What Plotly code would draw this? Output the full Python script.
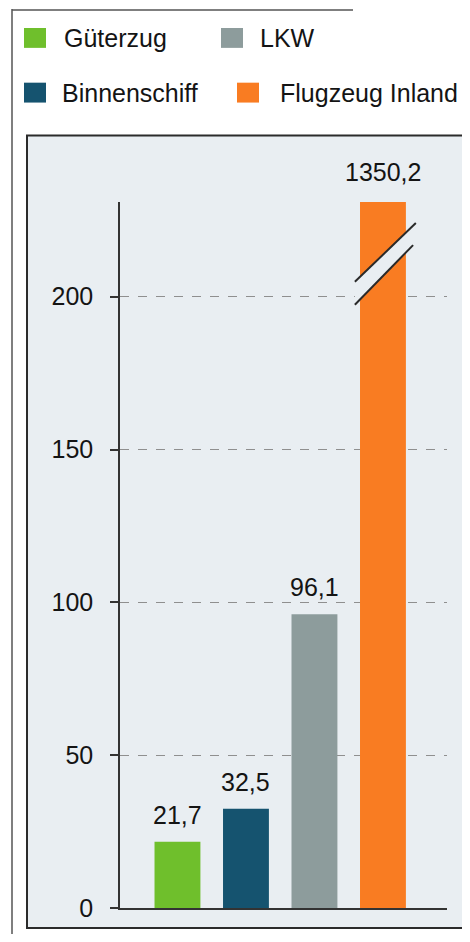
import plotly.graph_objects as go

# data
categories = ["Güterzug", "Binnenschiff", "LKW", "Flugzeug Inland"]
values = [21.7, 32.5, 96.1, 1350.2]
colors = ["#6fbf2c", "#15536f", "#8d9c9c", "#f97c22"]
legend_order = ["Güterzug", "LKW", "Binnenschiff", "Flugzeug Inland"]
y_ticks = [0, 50, 100, 150, 200]

Y_TOP = 231          # axis is cut here, the last bar is broken
OFF = 8              # page body margin around the plot div
W, H = 470 - 2 * OFF, 942 - 2 * OFF
ML, MR, MT, MB = 112, 15, 194, 22
PW, PH = W - ML - MR, H - MT - MB


def px_x(px):
    # page pixel -> paper x
    return (px - OFF - ML) / PW


def px_y(py):
    # page pixel -> paper y
    return (H - MB - (py - OFF)) / PH


def fmt(v):
    return f"{v:.1f}".replace(".", ",")


xs = list(range(len(categories)))
shown = [min(v, Y_TOP) for v in values]

fig = go.Figure()
fig.add_trace(go.Bar(
    x=xs,
    y=shown,
    width=0.67,
    marker=dict(color=colors, line=dict(width=0)),
    showlegend=False,
    hoverinfo="skip",
))

font = dict(family="Liberation Sans, Arial, sans-serif", color="#141414")

# value labels
for x, v, s in zip(xs, values, shown):
    fig.add_annotation(
        x=x, y=s, text=fmt(v), showarrow=False,
        yanchor="bottom", yshift=14 if v > Y_TOP else 11,
        font=dict(size=25, **font),
    )

shapes = []
# chart panel
shapes.append(dict(
    type="rect", xref="paper", yref="paper", layer="below",
    x0=px_x(27), x1=px_x(465), y0=px_y(932), y1=px_y(135),
    fillcolor="#e9eef2", line=dict(color="#2b2b2b", width=2),
))
# outer scan frame
shapes.append(dict(type="line", xref="paper", yref="paper",
                   x0=px_x(12), x1=px_x(12), y0=px_y(8), y1=px_y(942),
                   line=dict(color="#555", width=1.5)))
shapes.append(dict(type="line", xref="paper", yref="paper",
                   x0=px_x(12), x1=px_x(353), y0=px_y(9), y1=px_y(9),
                   line=dict(color="#555", width=1.5)))

# break marks on the cut bar
bi = values.index(max(values))
brk = [(bi - 0.41, Y_TOP - 26.1), (bi + 0.48, Y_TOP - 6.9),
       (bi + 0.44, Y_TOP - 14.1), (bi - 0.41, Y_TOP - 33.6)]
shapes.append(dict(
    type="path", xref="x", yref="y",
    path="M {} {} L {} {} L {} {} L {} {} Z".format(*[c for p in brk for c in p]),
    fillcolor="#e9eef2", line=dict(width=0),
))
for a, b in [(brk[0], brk[1]), (brk[3], brk[2])]:
    shapes.append(dict(type="line", xref="x", yref="y",
                       x0=a[0], y0=a[1], x1=b[0], y1=b[1],
                       line=dict(color="#2a2a2a", width=2)))

# legend (two rows, drawn by hand)
legend_pos = {
    "Güterzug": (24, 37, 62),
    "LKW": (221, 37, 258),
    "Binnenschiff": (24, 92, 60),
    "Flugzeug Inland": (237, 92, 278),
}
for name in legend_order:
    sx, cy, tx = legend_pos[name]
    col = colors[categories.index(name)]
    shapes.append(dict(type="rect", xref="paper", yref="paper",
                       x0=px_x(sx), x1=px_x(sx + 22),
                       y0=px_y(cy + 10), y1=px_y(cy - 10),
                       fillcolor=col, line=dict(width=0)))
    fig.add_annotation(xref="paper", yref="paper", x=px_x(tx), y=px_y(cy),
                       text=name, showarrow=False, xanchor="left",
                       yanchor="middle", font=dict(size=25, **font))

fig.update_layout(
    width=W, height=H,
    margin=dict(l=ML, r=MR, t=MT, b=MB),
    paper_bgcolor="white",
    plot_bgcolor="rgba(0,0,0,0)",
    shapes=shapes,
    bargap=0.33,
    xaxis=dict(
        range=[-0.839, 3.935], showticklabels=False, showgrid=False,
        zeroline=False, showline=True, linecolor="#333", linewidth=1.5,
        fixedrange=True,
    ),
    yaxis=dict(
        range=[0, Y_TOP], tickvals=y_ticks, ticktext=[str(t) for t in y_ticks],
        showline=True, linecolor="#333", linewidth=1.5,
        ticks="outside", ticklen=8, tickcolor="#333", tickwidth=1.5,
        ticklabelstandoff=12,
        tickfont=dict(size=25, **font),
        showgrid=True, gridcolor="#8f8f8f", gridwidth=1, griddash="dash",
        zeroline=False, fixedrange=True,
    ),
)

fig.write_html("out.html")
